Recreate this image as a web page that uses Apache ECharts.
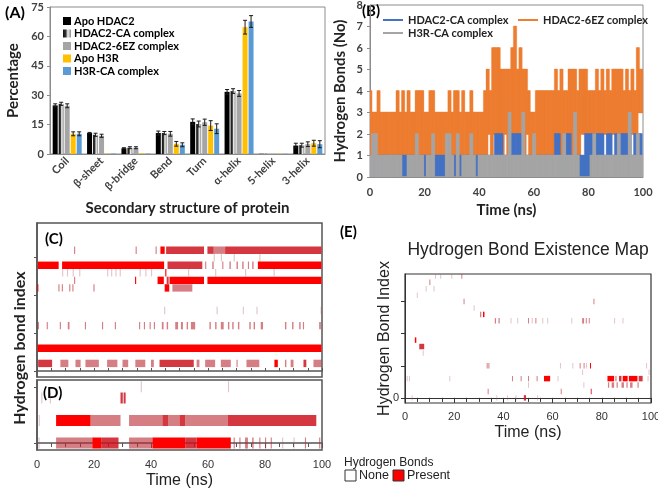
<!DOCTYPE html>
<html>
<head>
<meta charset="utf-8">
<script src="https://cdn.jsdelivr.net/npm/echarts@6/dist/echarts.min.js"></script>
<style>
  html, body { margin: 0; padding: 0; background: #fff; }
  #chart { width: 658px; height: 491px; }
</style>
</head>
<body>
<div id="chart"></div>
<script>
// ---- (A) secondary structure ----
var categories = ['Coil', 'β-sheet', 'β-bridge', 'Bend', 'Turn', 'α-helix', '5-helix', '3-helix'];
var apoHDAC2   = [24.8, 10.7, 2.9, 10.7, 16.4, 31.7, 0.1, 4.3];
var hdac2CA    = [25.6, 9.8, 3.2, 10.7, 15.3, 32.1, 0.1, 4.5];
var hdac26EZ   = [24.6, 9.3, 3.2, 10.3, 16.2, 30.9, 0.1, 5.0];
var apoH3R     = [10.3, 0.2, 0.3, 5.2, 14.5, 64.7, 0.2, 5.5];
var h3rCA      = [10.3, 0.2, 0.2, 4.7, 12.9, 67.6, 0.1, 5.0];
var errApoHDAC2 = [0.8, 0.3, 0.3, 1.0, 1.5, 1.2, 0, 1.2];
var errHDAC2CA  = [0.8, 0.8, 0.5, 0.8, 1.5, 1.2, 0, 1.0];
var errHDAC26EZ = [1.0, 0.8, 0.5, 1.2, 1.6, 1.5, 0, 1.2];
var errApoH3R   = [1.0, 0, 0, 1.2, 2.5, 3.5, 0, 1.5];
var errH3RCA    = [1.0, 0, 0, 1.0, 2.5, 3.0, 0, 1.8];

// ---- (B) hydrogen bonds over time, one digit every 0.5 ns ----
var STEP = 0.5;
var hb6EZ = [
  '41313141313131313131',
  '41314131413131414141',
  '31314141313131313141',
  '31414131413131413131',
  '31314152416261625152',
  '51526172516251524131',
  '31414141414141415141',
  '51414151515141525252',
  '42424252425242524252',
  '525252425242524263535'
].join('');
var hbCA = [
  '10101010101010101010',
  '10101010101010101010',
  '10101010101010101010',
  '10101010101010101010',
  '10101010101021212110',
  '10102121212010101010',
  '10101010101010102120',
  '10102120101010101020',
  '20212121212110212110',
  '212121212121102121201'
].join('');
var hbH3R = [
  '10202010101010101010',
  '10100000101010201010',
  '00101020000000002020',
  '10002000101010201000',
  '10101010101010101010',
  '10301010101030101010',
  '20101010101010101010',
  '10201010103010000000',
  '00102010101010101010',
  '102010101030101020101'
].join('');

// ---- existence maps: [row, from ns, to ns, level] ----
var mapC = [
  [16,13,13.4,1],[16,34.6,35,1],[16,41.6,42,1],[16,43.3,44.8,3],[16,45.3,58.6,2],[16,59.8,62,2],[16,62,66,1],[16,66,99.8,2],
  [15,62,62.4,0],[15,64.5,64.9,0],[15,69,69.4,0],[15,78,78.4,0],
  [14,0.3,7.6,3],[14,8.8,44.6,3],[14,45.8,58,2],[14,59,59.4,1],[14,61.5,62,1],[14,65,65.4,1],[14,67.5,68,1],[14,70,70.5,1],[14,72,72.5,1],[14,74,74.4,1],[14,75.5,76,1],[14,77.5,99.8,3],
  [13,8.8,9.2,0],[13,10.5,10.9,0],[13,12.5,12.9,0],[13,14.8,15.2,0],[13,24.6,25,0],[13,26,26.4,0],[13,27.5,27.9,0],[13,29,29.4,0],[13,36,36.4,0],[13,38,38.4,0],[13,40,40.4,0],[13,45,45.4,3],[13,53,53.4,0],[13,62.5,62.9,0],[13,73,73.4,0],[13,83,83.4,0],
  [12,13,13.4,1],[12,34.4,34.8,3],[12,42.3,44.5,3],[12,45.5,46.2,2],[12,46.5,58.6,3],[12,59.8,99.8,3],
  [11,0,0.5,2],[11,7.5,7.9,1],[11,8.7,9.1,1],[11,11.3,11.7,1],[11,12.4,12.8,1],[11,19.8,20.2,1],[11,44.8,46.4,3],[11,47.5,54.5,1],
  [8,44.6,45,0],[8,63,63.4,0],[8,72.2,72.6,0],[8,77,77.4,0],[8,99.5,99.9,0],
  [6,0.3,0.7,1],[6,3.4,3.8,1],[6,8,8.4,1],[6,10.8,11.4,1],[6,16.8,17.2,1],[6,22.8,23.2,1],[6,27.3,27.7,1],[6,35.8,36.2,1],[6,37.5,37.9,1],[6,39.5,39.9,1],[6,41,41.4,1],[6,43.8,44.4,1],[6,45.5,46,1],[6,48.5,49.5,1],[6,50.5,51.2,1],[6,52.5,53,1],[6,54,55.5,1],[6,60.5,61,1],[6,62.5,63,1],[6,64.5,65.5,1],[6,67,67.5,1],[6,68.5,69,1],[6,70.5,71,1],[6,74.5,75,1],[6,76,76.5,1],[6,78.5,79.3,1],[6,87,87.5,1],[6,89.5,90,1],[6,92,92.5,1],[6,93.3,93.7,1],[6,99,99.6,1],
  [3,0.2,99.8,3],
  [1,0.4,5.3,2],[1,8.2,11,1],[1,13.5,15.3,1],[1,17,21.7,1],[1,24.6,28.2,1],[1,30,32,1],[1,34.5,38,1],[1,40,41,1],[1,43,55,2],[1,56,57,1],[1,59,62.5,1],[1,64.5,68,1],[1,70,70.4,1],[1,73.5,78,1],[1,83.3,84.5,3],[1,87,87.5,1],[1,89,90,1],[1,93.5,94.5,2],[1,97,99.8,1]
];
var mapD = [
  [5,36.4,36.8,0],[5,67,67.4,0],
  [4,1.5,1.9,0],[4,4.5,4.9,0],[4,29.3,30.1,2],[4,30.4,31.1,2],
  [2,0.6,1,0],[2,6.7,18.8,3],[2,18.8,29.3,1],[2,32.3,44,1],[2,44,46,2],[2,46,50,1],[2,50,52,2],[2,52,67,1],[2,67,98,2],
  [0,0.5,0.9,0],[0,6.7,19.4,1],[0,19.4,22.5,3],[0,22.5,28.6,2],[0,32.3,40.5,1],[0,40.5,52,3],[0,52,56,2],[0,56,68,3],[0,69,69.4,1],[0,71,71.4,1],[0,73,74,1],[0,75.5,76,1],[0,78,78.4,1],[0,80,80.4,1],[0,82,82.4,1],[0,86,86.4,0],[0,90,90.4,0],[0,94,94.4,1],[0,99,99.4,1]
];
var mapE = [
  [19,12.2,12.6,0],[19,14.3,14.7,0],[19,18.8,19.2,0],[19,22.9,23.3,1],
  [18,9.9,10.3,1],
  [17,8.4,8.8,0],[17,11.6,12,0],
  [16,4.8,5.2,0],
  [15,23.8,24.2,1],[15,76.6,77,1],
  [14,27.9,28.3,0],
  [13,30.5,31,1],[13,31.7,32.3,3],
  [12,36.5,37,1],[12,38,38.5,1],[12,42.9,43.3,0],[12,45.6,46,0],[12,50,50.4,1],[12,51.5,51.9,0],[12,53,53.4,1],[12,55.8,56.2,0],[12,57.8,58.2,0],[12,67.6,68,0],[12,72,72.8,1],[12,73.5,73.9,1],[12,74.7,75.1,1],[12,85,85.4,0],[12,88.4,88.8,0],
  [9,4,4.6,3],
  [8,5.8,7.8,2],
  [7,7.2,7.6,0],
  [5,33.2,33.6,1],[5,33.9,34.3,1],[5,63,63.4,0],[5,68,68.4,0],[5,71,71.4,1],[5,72.6,73,1],[5,73.6,74,0],[5,75.2,75.6,3],[5,98,98.4,0],
  [4,72,72.4,0],[4,99,99.4,0],
  [3,0.7,1.1,0],[3,1.6,2,0],[3,18,18.4,0],[3,43.5,43.9,1],[3,47,47.4,1],[3,50,50.4,1],[3,53.5,53.9,1],[3,56.5,59,3],[3,62,62.4,0],[3,82.3,85,3],[3,85.5,86,1],[3,87,88,2],[3,88.5,90.5,3],[3,91,94.5,3],[3,95,96.6,2],[3,98.6,99,0],
  [2,50,50.4,0],[2,72.5,72.9,0],[2,82.5,83,1],[2,84,85,1],[2,86,86.5,1],[2,88,89,1],[2,90,90.5,1],[2,91.5,92.5,1],[2,94.5,95,1],
  [1,33.6,34,1],[1,63.3,63.7,1],[1,75.5,75.9,2],
  [0,2.7,3.1,0],[0,37.1,37.5,0],[0,41.5,41.9,0],[0,44.9,45.3,0],[0,48.3,49.2,2],[0,53.7,54.1,0]
];

var levelColors = ['rgba(175,90,95,0.35)', 'rgba(185,40,50,0.6)', 'rgba(205,20,30,0.85)', '#ff0000'];

// consecutive samples -> [t, v(t), v(t+step)]
function toSpans(s) {
  var out = [];
  for (var i = 0; i < s.length - 1; i++) out.push([i * STEP, +s[i], +s[i + 1]]);
  return out;
}

function renderSpan(params, api) {
  var t = api.value(0), a = api.value(1), b = api.value(2);
  var p0 = api.coord([t, Math.min(a, b)]);
  var p1 = api.coord([t + STEP, Math.max(a, b)]);
  var c = api.visual('color');
  return {
    type: 'rect',
    shape: { x: p0[0], y: p1[1] - 0.5, width: p1[0] - p0[0] + 0.7, height: Math.max(p0[1] - p1[1], 0) + 1 },
    style: { fill: c, stroke: c, lineWidth: 0.3 }
  };
}

var barNames = ['Apo HDAC2', 'HDAC2-CA complex', 'HDAC2-6EZ complex', 'Apo H3R', 'H3R-CA complex'];
var barValues = [apoHDAC2, hdac2CA, hdac26EZ, apoH3R, h3rCA];
var barErrors = [errApoHDAC2, errHDAC2CA, errHDAC26EZ, errApoH3R, errH3RCA];
var barColors = [
  '#000000',
  { type: 'linear', x: 0, y: 0, x2: 1, y2: 0, colorStops: [
    { offset: 0, color: '#111' }, { offset: 0.35, color: '#333' },
    { offset: 0.6, color: '#eeeeee' }, { offset: 1, color: '#8a8a8a' }] },
  '#a5a5a5',
  '#ffc000',
  '#5b9bd5'
];

var errData = [];
for (var k = 0; k < barValues.length; k++) {
  for (var i = 0; i < categories.length; i++) {
    errData.push([i, k, barValues[k][i], barErrors[k][i]]);
  }
}

function renderErr(params, api) {
  var e = api.value(3);
  if (!e) return;
  var i = api.value(0), k = api.value(1), v = api.value(2);
  var top = api.coord([i, v + e]);
  var bot = api.coord([i, v - e]);
  var x = top[0] + (k - 2) * 6;
  var s = { stroke: '#1a1a1a', lineWidth: 1 };
  return { type: 'group', children: [
    { type: 'line', shape: { x1: x, y1: top[1], x2: x, y2: bot[1] }, style: s },
    { type: 'line', shape: { x1: x - 2, y1: top[1], x2: x + 2, y2: top[1] }, style: s },
    { type: 'line', shape: { x1: x - 2, y1: bot[1], x2: x + 2, y2: bot[1] }, style: s }
  ]};
}

function mapRenderer(frac) {
  return function (params, api) {
    var row = api.value(0);
    var a = api.coord([api.value(1), row]);
    var b = api.coord([api.value(2), row]);
    var h = api.size([0, 1])[1] * frac;
    return {
      type: 'rect',
      shape: { x: a[0], y: a[1] - h / 2, width: Math.max(b[0] - a[0], 1), height: h },
      style: { fill: levelColors[api.value(3)] }
    };
  };
}

var calibri = 'Lato';
var arial = 'Liberation Sans';
var boldLbl = { fontFamily: calibri, fontWeight: 'bold', fontSize: 11, color: '#404040' };
var frameA = '#8c8c8c';

var myChart = echarts.init(document.getElementById('chart'));

var series = [];
barNames.forEach(function (n, k) {
  series.push({
    name: n, type: 'bar', xAxisIndex: 0, yAxisIndex: 0,
    barWidth: 5, barGap: '20%', data: barValues[k],
    itemStyle: { color: barColors[k] }
  });
});
series.push({
  type: 'custom', xAxisIndex: 0, yAxisIndex: 0, data: errData,
  encode: { x: 0, y: 2 }, renderItem: renderErr, z: 5, silent: true
});
// orange first, then blue, grey on top
[['B:HDAC2-6EZ complex', hb6EZ, '#ed7d31'],
 ['B:HDAC2-CA complex', hbCA, '#4472c4'],
 ['B:H3R-CA complex', hbH3R, '#a5a5a5']].forEach(function (d) {
  series.push({
    name: d[0], type: 'custom', xAxisIndex: 1, yAxisIndex: 1, data: toSpans(d[1]),
    encode: { x: 0, y: [1, 2] }, renderItem: renderSpan, clip: true,
    itemStyle: { color: d[2] }
  });
});
series.push({ type: 'custom', xAxisIndex: 2, yAxisIndex: 2, data: mapC, encode: { x: [1, 2], y: 0 }, renderItem: mapRenderer(0.98), clip: true });
series.push({ type: 'custom', xAxisIndex: 3, yAxisIndex: 3, data: mapD, encode: { x: [1, 2], y: 0 }, renderItem: mapRenderer(0.98), clip: true });
series.push({ type: 'custom', xAxisIndex: 4, yAxisIndex: 4, data: mapE, encode: { x: [1, 2], y: 0 }, renderItem: mapRenderer(0.85), clip: true });

var noGrid = { outerBoundsMode: 'none', show: true, backgroundColor: 'transparent' };
var lineLegendText = { fontFamily: calibri, fontWeight: 'bold', fontSize: 11, color: '#222', lineHeight: 12 };

myChart.setOption({
  animation: false,
  grid: [
    Object.assign({ left: 50, top: 7, width: 275, height: 147, borderColor: frameA, borderWidth: 1 }, noGrid),
    Object.assign({ left: 370, top: 5, width: 273, height: 172, borderColor: frameA, borderWidth: 1 }, noGrid),
    Object.assign({ left: 37, top: 223, width: 285, height: 154, borderColor: '#555', borderWidth: 1.5 }, noGrid),
    Object.assign({ left: 37, top: 380, width: 285, height: 70, borderColor: '#555', borderWidth: 1.5 }, noGrid),
    Object.assign({ left: 405, top: 274, width: 246, height: 129, borderColor: '#333', borderWidth: 1.2 }, noGrid)
  ],
  legend: [
    {
      data: barNames, left: 58, top: 10, orient: 'vertical', icon: 'rect',
      itemWidth: 8, itemHeight: 8, itemGap: 0.5, selectedMode: false,
      textStyle: { fontFamily: calibri, fontWeight: 'bold', fontSize: 11, color: '#000', lineHeight: 12, padding: [0, 0, 0, -2] }
    },
    {
      data: ['B:HDAC2-CA complex', 'B:H3R-CA complex'], left: 378, top: 9, orient: 'vertical',
      icon: 'rect', itemWidth: 20, itemHeight: 2, itemGap: 1, selectedMode: false,
      formatter: function (n) { return n.slice(2); }, textStyle: lineLegendText
    },
    {
      data: ['B:HDAC2-6EZ complex'], left: 513, top: 9, orient: 'vertical',
      icon: 'rect', itemWidth: 20, itemHeight: 2, selectedMode: false,
      formatter: function (n) { return n.slice(2); }, textStyle: lineLegendText
    }
  ],
  xAxis: [
    {
      gridIndex: 0, type: 'category', data: categories,
      axisLine: { lineStyle: { color: frameA } }, axisTick: { show: false },
      axisLabel: Object.assign({ rotate: 45, margin: 5, interval: 0 }, boldLbl),
      name: 'Secondary structure of protein', nameLocation: 'middle', nameGap: 47, nameMoveOverlap: false,
      nameTextStyle: { fontFamily: calibri, fontWeight: 'bold', fontSize: 15, color: '#222' }
    },
    {
      gridIndex: 1, type: 'value', min: 0, max: 100, interval: 20,
      axisLine: { lineStyle: { color: frameA } }, axisTick: { show: false }, splitLine: { show: false },
      axisLabel: Object.assign({ margin: 10 }, boldLbl),
      name: 'Time (ns)', nameLocation: 'middle', nameGap: 26, nameMoveOverlap: false,
      nameTextStyle: { fontFamily: calibri, fontWeight: 'bold', fontSize: 15, color: '#222' }
    },
    {
      gridIndex: 2, type: 'value', min: 0, max: 100, interval: 5,
      axisLine: { lineStyle: { color: '#555', width: 1.5 } },
      axisTick: { inside: true, length: 3, lineStyle: { color: '#555' } },
      axisLabel: { show: false }, splitLine: { show: false }
    },
    {
      gridIndex: 3, type: 'value', min: 0, max: 100, interval: 20,
      axisLine: { lineStyle: { color: '#555', width: 1.5 } },
      axisTick: { length: 5, lineStyle: { color: '#555' } },
      minorTick: { show: true, splitNumber: 4, length: 4, lineStyle: { color: '#555' } },
      axisLabel: { fontFamily: arial, fontSize: 11, color: '#333', margin: 9 }, splitLine: { show: false },
      name: 'Time (ns)', nameLocation: 'middle', nameGap: 23, nameMoveOverlap: false,
      nameTextStyle: { fontFamily: arial, fontSize: 16, color: '#222' }
    },
    {
      gridIndex: 4, type: 'value', min: 0, max: 100, interval: 20,
      axisLine: { lineStyle: { color: '#333' } },
      axisTick: { length: 5, lineStyle: { color: '#333' } },
      minorTick: { show: true, splitNumber: 4, length: 4, lineStyle: { color: '#333' } },
      axisLabel: { fontFamily: arial, fontSize: 11, color: '#333', margin: 8 }, splitLine: { show: false },
      name: 'Time (ns)', nameLocation: 'middle', nameGap: 22, nameMoveOverlap: false,
      nameTextStyle: { fontFamily: arial, fontSize: 16, color: '#222' }
    }
  ],
  yAxis: [
    {
      gridIndex: 0, type: 'value', min: 0, max: 75, interval: 15,
      axisLine: { show: true, lineStyle: { color: frameA } },
      axisTick: { show: true, length: 3, lineStyle: { color: frameA } }, splitLine: { show: false },
      axisLabel: Object.assign({ margin: 6 }, boldLbl),
      name: 'Percentage', nameLocation: 'middle', nameGap: 29, nameMoveOverlap: false,
      nameTextStyle: { fontFamily: calibri, fontWeight: 'bold', fontSize: 15, color: '#222' }
    },
    {
      gridIndex: 1, type: 'value', min: 0, max: 8, interval: 1,
      axisLine: { show: true, lineStyle: { color: frameA } },
      axisTick: { show: true, length: 3, lineStyle: { color: frameA } }, splitLine: { show: false },
      axisLabel: Object.assign({ margin: 7 }, boldLbl),
      name: 'Hydrogen Bonds (No)', nameLocation: 'middle', nameGap: 22, nameMoveOverlap: false,
      nameTextStyle: { fontFamily: calibri, fontWeight: 'bold', fontSize: 15, color: '#222' }
    },
    {
      gridIndex: 2, type: 'value', min: -0.8, max: 19.6,
      axisLine: { show: true, lineStyle: { color: '#555', width: 1.5 } },
      axisTick: { show: true, length: 3, customValues: [0, 5, 10, 15], lineStyle: { color: '#555' } },
      axisLabel: { show: false }, splitLine: { show: false }
    },
    {
      gridIndex: 3, type: 'value', min: -0.62, max: 5.6,
      axisLine: { show: true, lineStyle: { color: '#555', width: 1.5 } },
      axisTick: { show: true, length: 3, customValues: [0, 5], lineStyle: { color: '#555' } },
      axisLabel: { show: false }, splitLine: { show: false }
    },
    {
      gridIndex: 4, type: 'value', min: -0.8, max: 19.3,
      axisLine: { show: true, lineStyle: { color: '#333' } },
      axisTick: { show: true, length: 4, customValues: [0, 5, 10, 15], lineStyle: { color: '#333' } },
      axisLabel: { fontFamily: arial, fontSize: 11, color: '#333', margin: 6, customValues: [0] },
      splitLine: { show: false },
      name: 'Hydrogen Bond Index', nameLocation: 'middle', nameGap: 12, nameMoveOverlap: false,
      nameTextStyle: { fontFamily: arial, fontSize: 16, color: '#222' }
    }
  ],
  graphic: [
    { type: 'text', left: 5, top: 5, style: { text: '(A)', font: 'bold 16px Lato', fill: '#000' } },
    { type: 'text', left: 362, top: 4, style: { text: '(B)', font: 'bold 15px Lato', fill: '#000' } },
    { type: 'text', left: 45, top: 232, style: { text: '(C)', font: 'bold 15px Lato', fill: '#000' } },
    { type: 'text', left: 43, top: 386, style: { text: '(D)', font: 'bold 15px Lato', fill: '#000' } },
    { type: 'text', left: 340, top: 225, style: { text: '(E)', font: 'bold 15px Lato', fill: '#000' } },
    { type: 'text', x: 20, y: 348, rotation: Math.PI / 2,
      style: { text: 'Hydrogen bond index', font: 'bold 16px Lato', fill: '#222', textAlign: 'center', textVerticalAlign: 'middle' } },
    { type: 'text', x: 528, y: 250,
      style: { text: 'Hydrogen Bond Existence Map', font: '17.5px "Liberation Sans"', fill: '#222', textAlign: 'center', textVerticalAlign: 'middle' } },
    { type: 'text', x: 344, y: 463,
      style: { text: 'Hydrogen Bonds', font: '12px "Liberation Sans"', fill: '#222', textVerticalAlign: 'middle' } },
    { type: 'rect', shape: { x: 345, y: 470, width: 11, height: 11 }, style: { fill: '#fff', stroke: '#333', lineWidth: 1 } },
    { type: 'text', x: 359, y: 476,
      style: { text: 'None', font: '12.5px "Liberation Sans"', fill: '#222', textVerticalAlign: 'middle' } },
    { type: 'rect', shape: { x: 393, y: 470, width: 11, height: 11 }, style: { fill: '#ff0000', stroke: '#333', lineWidth: 1 } },
    { type: 'text', x: 407, y: 476,
      style: { text: 'Present', font: '12.5px "Liberation Sans"', fill: '#222', textVerticalAlign: 'middle' } }
  ],
  series: series
});
</script>
</body>
</html>
